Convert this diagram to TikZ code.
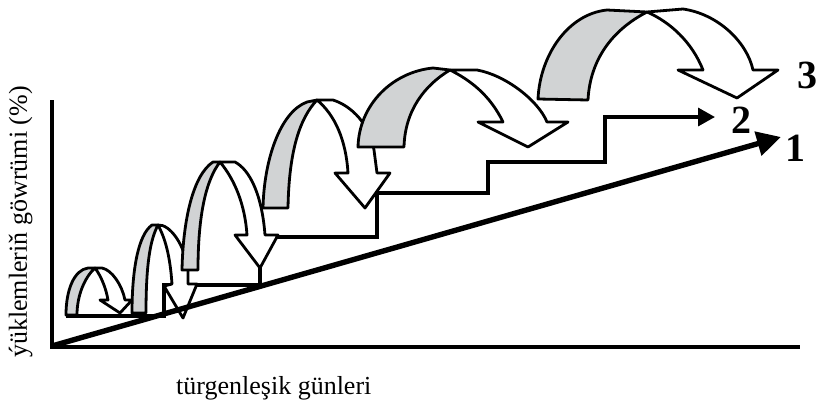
\documentclass[tikz,border=0pt]{standalone}
\usepackage{fontspec}
\setmainfont{Liberation Serif}
\usetikzlibrary{arrows.meta}
\definecolor{legfill}{RGB}{209,211,212}
\begin{document}
\begin{tikzpicture}[x=1pt,y=-1pt,
  outl/.style={line width=2.8pt, line join=round},
  legshape/.style={outl, fill=legfill},
  arrshape/.style={outl, fill=white},
  axisline/.style={line width=3.4pt, line join=miter},
  stairline/.style={line width=3.4pt, line join=miter, -{Triangle[length=17pt,width=18pt]}},
  trendline/.style={line width=5.4pt, -{Triangle[length=24pt,width=24pt]}},
  numlabel/.style={font=\bfseries\fontsize{40}{40}\selectfont, inner sep=0pt},
  axlabel/.style={font=\fontsize{26}{26}\selectfont, inner sep=0pt}
]
\useasboundingbox (0,0) rectangle (820,402);

% named points
\coordinate (ytop) at (52,100);
\coordinate (O) at (52,347);
\coordinate (xend) at (800,347);
\coordinate (Ostart) at (52,346);
\coordinate (tip1) at (781,137);
\coordinate (s0) at (66,316);
\coordinate (tip2) at (715,117);

% staircase (line 2)
\draw[stairline] (s0) -- (164,316) -- (164,285) -- (260,285) -- (260,237) -- (377,237) -- (377,193) -- (488,193) -- (488,162) -- (605,162) -- (605,117) -- (tip2);

% arch 1
\draw[legshape] (66,315) .. controls (66,290) and (74,270) .. (88,268) -- (95,268) .. controls (85,277) and (77,295) .. (77,315) -- cycle;
\draw[arrshape] (95,268) -- (102,268) .. controls (112,270) and (122,285) .. (125,300) -- (132,300) -- (120,313) -- (100,300) -- (108,300) .. controls (106,288) and (101,276) .. (95,268) -- cycle;

% arch 2
\draw[legshape] (132,313) .. controls (132,270) and (138,235) .. (152,225) -- (158,225) .. controls (150,240) and (146,265) .. (146,313) -- cycle;
\draw[arrshape] (158,225) .. controls (170,224) and (185,245) .. (188,270) -- (188,284) -- (197,284) -- (183,318) -- (164,286) -- (172,284) .. controls (170,255) and (165,238) .. (158,225) -- cycle;

% arch 3
\draw[legshape] (182,270) .. controls (183,220) and (193,175) .. (213,162) -- (220,162) .. controls (206,180) and (198,215) .. (198,270) -- cycle;
\draw[arrshape] (220,162) -- (235,162) .. controls (250,170) and (262,195) .. (265,235) -- (278,235) -- (260,268) -- (235,235) -- (247,235) .. controls (245,205) and (235,180) .. (220,162) -- cycle;

% arch 4
\draw[legshape] (263,208) .. controls (264,160) and (280,112) .. (307,102) -- (317,100) .. controls (300,118) and (289,150) .. (288,208) -- cycle;
\draw[arrshape] (317,100) -- (333,100) .. controls (352,106) and (370,125) .. (374,150) -- (377,173) -- (390,173) -- (365,208) -- (335,173) -- (348,173) .. controls (346,140) and (335,115) .. (317,100) -- cycle;

% arch 5
\draw[legshape] (358,147) .. controls (359,105) and (392,72) .. (433,68) -- (450,70) .. controls (425,85) and (405,110) .. (404,147) -- cycle;
\draw[arrshape] (450,70) -- (477,70) .. controls (505,75) and (538,100) .. (547,122) -- (568,122) -- (528,147) -- (478,122) -- (503,122) .. controls (490,95) and (470,80) .. (450,70) -- cycle;

% arch 6
\draw[legshape] (538,99) .. controls (540,55) and (568,14) .. (607,10) -- (647,12) .. controls (612,30) and (590,60) .. (588,100) -- cycle;
\draw[arrshape] (647,12) -- (683,9) .. controls (718,14) and (747,42) .. (753,70) -- (778,70) -- (737,98) -- (678,70) -- (703,70) .. controls (692,42) and (670,22) .. (647,12) -- cycle;

% axes
\draw[axisline] (ytop) -- (O) -- (xend);

% trend line (line 1)
\draw[trendline] (Ostart) -- (tip1);

% labels
\node[numlabel] (n1) at (795,148) {1};
\node[numlabel] (n2) at (741,120) {2};
\node[numlabel] (n3) at (807,75) {3};
\node[axlabel, anchor=base west] (xlab) at (176,394) {türgenleşik günleri};
\node[axlabel, rotate=90, anchor=base west] (ylab) at (27,358) {ýüklemleriň göwrümi (\%)};
\end{tikzpicture}
\end{document}
